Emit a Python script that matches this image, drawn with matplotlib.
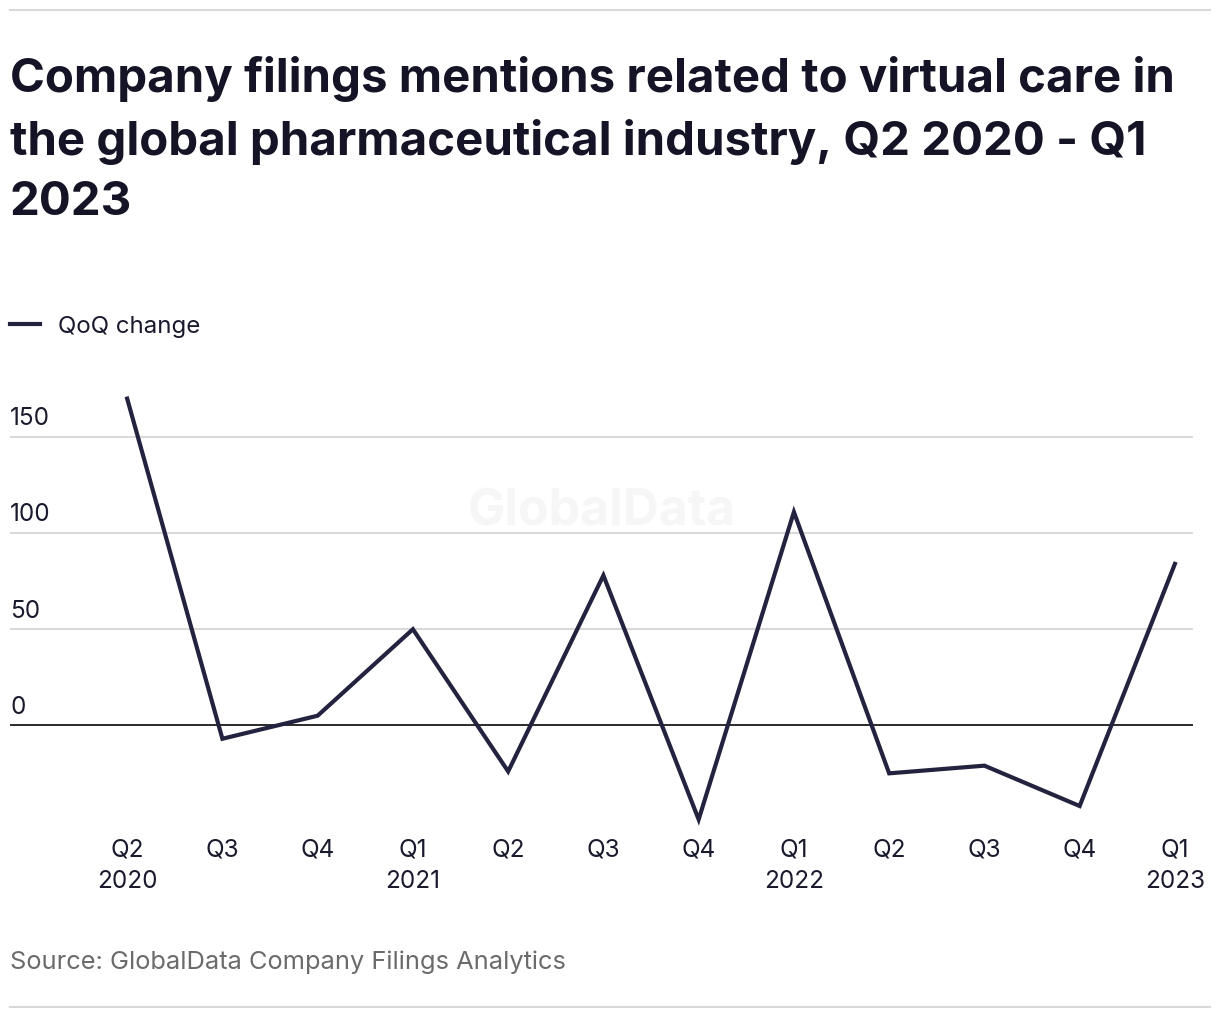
import matplotlib.pyplot as plt
from matplotlib.lines import Line2D
from matplotlib import transforms

plt.rcParams['font.family'] = ['Inter', 'DejaVu Sans']

quarters = ['Q2\n2020', 'Q3', 'Q4', 'Q1\n2021', 'Q2', 'Q3', 'Q4',
            'Q1\n2022', 'Q2', 'Q3', 'Q4', 'Q1\n2023']
qoq_change = [170, -7, 5, 50, -24, 78, -49, 111, -25, -21, -42, 84]
y_ticks = [0, 50, 100, 150]

navy = '#23233f'

fig = plt.figure(figsize=(12.2, 10.2), dpi=100)
ax = fig.add_axes([10 / 1220, 1 - 832 / 1020, 1183 / 1220, 442 / 1020])

x = list(range(len(qoq_change)))
ax.plot(x, qoq_change, color=navy, lw=3, solid_joinstyle='miter', zorder=3)
ax.set_xlim(-1.23, 11.19)
ax.set_ylim(-55, 175)

for v in y_ticks:
    ax.axhline(v, color='#1a1a1a' if v == 0 else '#d9d9d9', lw=1.3 if v == 0 else 1.5, zorder=1)
    ax.text(0, v + 4, str(v), transform=transforms.blended_transform_factory(ax.transAxes, ax.transData),
            ha='left', va='bottom', fontsize=17.5, color='#1a1a2e')

ax.set_xticks(x)
ax.set_xticklabels(quarters, fontsize=17.5, color='#1a1a2e', linespacing=1.45, va='top')
ax.tick_params(axis='x', length=0, pad=5)
ax.tick_params(axis='y', left=False, labelleft=False)
for s in ax.spines.values():
    s.set_visible(False)

# watermark
ax.text(0.5, 0.723, 'GlobalData', transform=ax.transAxes, ha='center', va='center',
        fontsize=36, fontweight='bold', color='#f6f6f6', zorder=0)

# title
fig.text(10 / 1220, 1 - 56 / 1020, 'Company filings mentions related to virtual care in\n'
         'the global pharmaceutical industry, Q2 2020 - Q1\n2023',
         ha='left', va='top', fontsize=34.1, fontweight='bold', color='#141426', linespacing=1.47)

# legend
fig.add_artist(Line2D([10 / 1220, 40 / 1220], [1 - 325 / 1020] * 2, color=navy, lw=3))
fig.text(58 / 1220, 1 - 327 / 1020, 'QoQ change', ha='left', va='center', fontsize=17.3, color='#1a1a2e')

# source
fig.text(10 / 1220, 1 - 962 / 1020, 'Source: GlobalData Company Filings Analytics',
         ha='left', va='center', fontsize=18.3, color='#6b6b6b')

# rules
fig.add_artist(Line2D([10 / 1220, 1210 / 1220], [1 - 11 / 1020] * 2, color='#d9d9d9', lw=1.5))
fig.add_artist(Line2D([10 / 1220, 1210 / 1220], [1 - 1008 / 1020] * 2, color='#d9d9d9', lw=1.5))

fig.savefig('out.png', dpi=100, facecolor='white')
